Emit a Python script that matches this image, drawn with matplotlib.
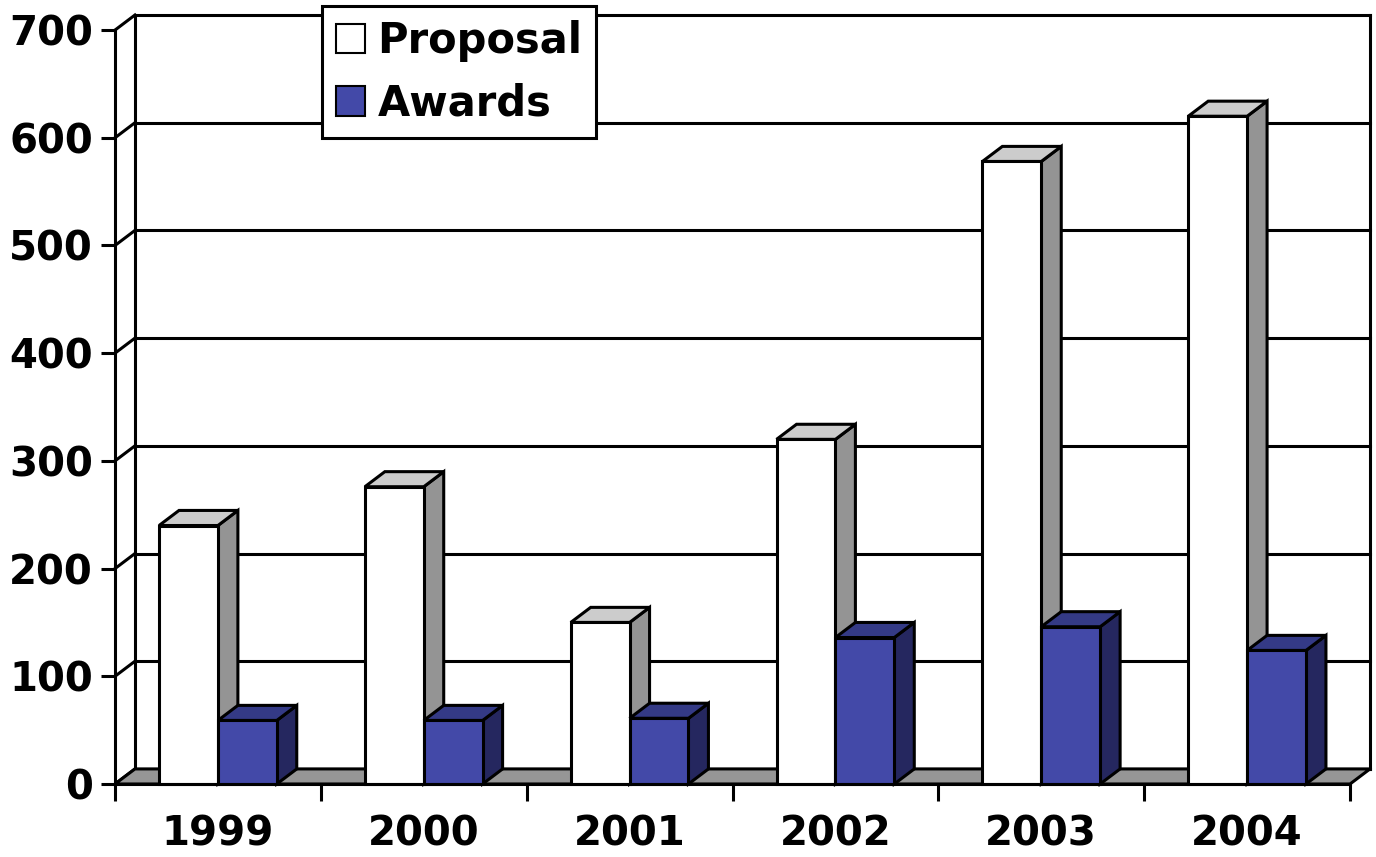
import numpy as np
import matplotlib
matplotlib.use("Agg")
import matplotlib.pyplot as plt
from matplotlib.patches import Polygon, Patch

# data
years = ['1999', '2000', '2001', '2002', '2003', '2004']
proposal = [240, 276, 150, 320, 578, 620]
awards = [59, 59, 61, 136, 146, 124]
yticks = [0, 100, 200, 300, 400, 500, 600, 700]

plt.rcParams['font.family'] = ['DejaVu Sans']
plt.rcParams['font.weight'] = 'bold'
FS = 29

# pseudo 3D depth (in data units)
DX = 0.097
DY = 14
W = 0.286
lw = 2.2

fig = plt.figure(figsize=(13.76, 8.57), dpi=100)
ax = fig.add_axes([115 / 1376, 1 - 784 / 857, 1255 / 1376, 769 / 857])
ax.set_xlim(-0.5, len(years) - 0.5 + DX)
ax.set_ylim(0, yticks[-1] + DY)

x0, x1 = -0.5, len(years) - 0.5

# back wall grid + left wall diagonals
for v in yticks:
    ax.plot([x0 + DX, x1 + DX], [v + DY, v + DY], color='black', lw=lw, zorder=1, clip_on=False)
    ax.plot([x0, x0 + DX], [v, v + DY], color='black', lw=lw, zorder=1, clip_on=False)
ax.plot([x0 + DX, x0 + DX], [DY, yticks[-1] + DY], color='black', lw=lw, zorder=1, clip_on=False)
ax.plot([x1 + DX, x1 + DX], [DY, yticks[-1] + DY], color='black', lw=lw, zorder=1, clip_on=False)

# floor
floor = Polygon([(x0, 0), (x1, 0), (x1 + DX, DY), (x0 + DX, DY)], closed=True,
                facecolor='#969696', edgecolor='black', lw=lw, zorder=2, clip_on=False)
ax.add_patch(floor)

idx = np.arange(len(years))


def bar3d(lefts, heights, front, top, side, z):
    ax.bar(lefts, heights, W, align='edge', color=front, edgecolor='black',
           lw=lw, zorder=z + 0.2, clip_on=False)
    for L, h in zip(lefts, heights):
        ax.add_patch(Polygon([(L + W, 0), (L + W + DX, DY), (L + W + DX, h + DY), (L + W, h)],
                             closed=True, facecolor=side, edgecolor='black', lw=lw,
                             zorder=z, clip_on=False, joinstyle='miter'))
        ax.add_patch(Polygon([(L, h), (L + W, h), (L + W + DX, h + DY), (L + DX, h + DY)],
                             closed=True, facecolor=top, edgecolor='black', lw=lw,
                             zorder=z, clip_on=False, joinstyle='miter'))


bar3d(idx - W, proposal, 'white', '#cccccc', '#949494', 3)
bar3d(idx, awards, '#4349a8', '#343a86', '#25275f', 4)

# axes / ticks
for s in ['top', 'right']:
    ax.spines[s].set_visible(False)
ax.spines['left'].set_bounds(0, yticks[-1])
ax.spines['bottom'].set_bounds(x0, x1)
for s in ['left', 'bottom']:
    ax.spines[s].set_linewidth(lw)
    ax.spines[s].set_zorder(5)

ax.set_yticks(yticks)
ax.set_yticklabels([str(v) for v in yticks], fontsize=FS, fontweight='bold')
ax.tick_params(axis='y', length=10, width=lw, pad=6)

ax.set_xticks(np.arange(x0, x1 + 0.01, 1))
ax.set_xticklabels([])
ax.tick_params(axis='x', which='major', length=12, width=lw)
ax.set_xticks(idx, minor=True)
ax.set_xticklabels(years, minor=True, fontsize=FS, fontweight='bold')
ax.tick_params(axis='x', which='minor', length=0, pad=22)

handles = [Patch(facecolor='white', edgecolor='black', lw=1.5),
           Patch(facecolor='#4349a8', edgecolor='black', lw=1.5)]
leg = fig.legend(handles, ['Proposal', 'Awards'], loc='upper left',
                 bbox_to_anchor=(322 / 1376, 1 - 6 / 857), borderaxespad=0,
                 fancybox=False, framealpha=1, edgecolor='black',
                 prop={'size': 30, 'weight': 'bold'},
                 handlelength=0.7, handleheight=0.7, handletextpad=0.3,
                 labelspacing=0.5, borderpad=0.33)
leg.get_frame().set_linewidth(lw)

fig.savefig('out.png', dpi=100)
